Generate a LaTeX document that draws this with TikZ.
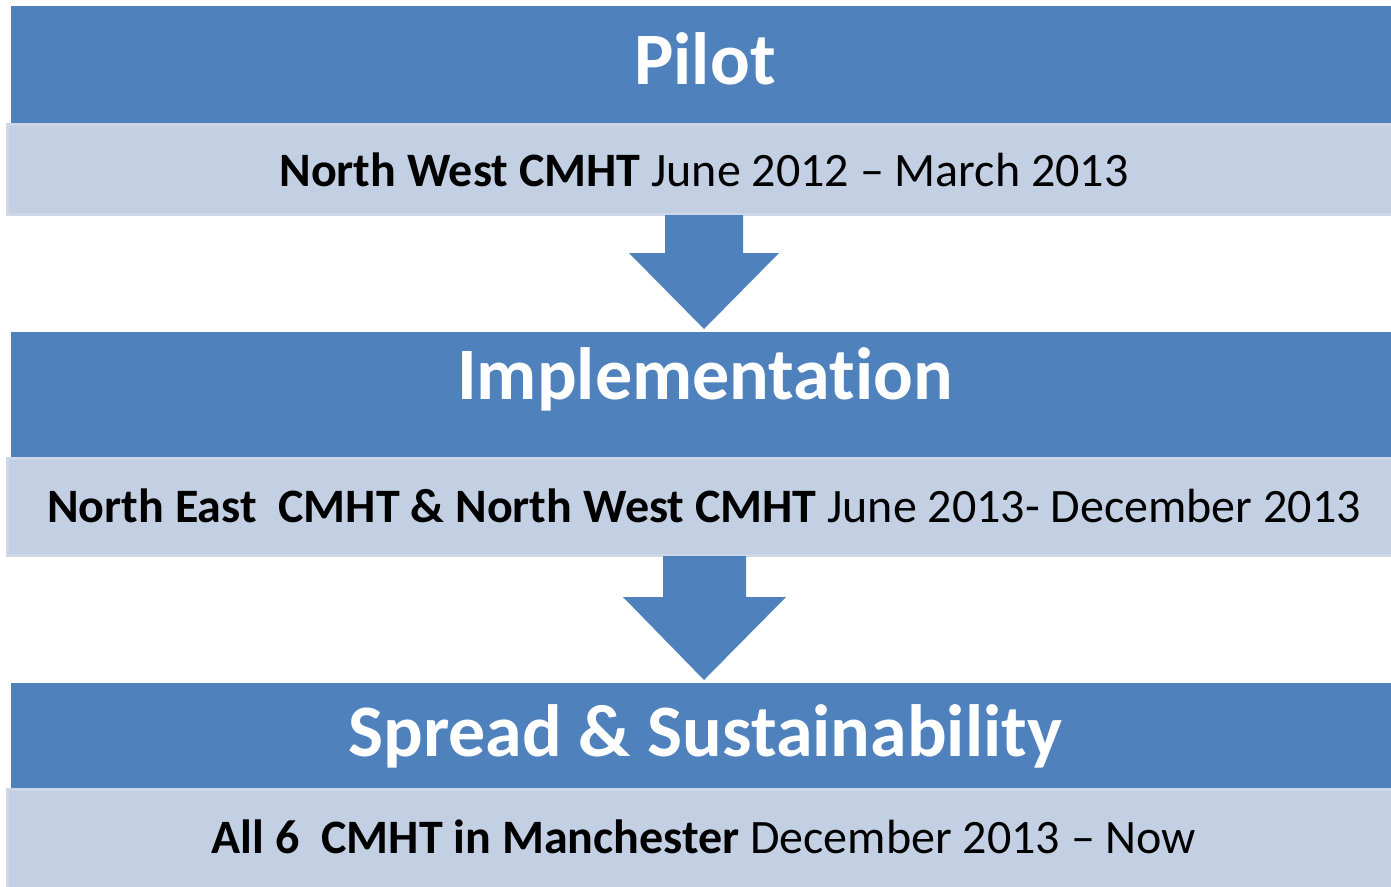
\documentclass[tikz,border=0pt]{standalone}
\usepackage{fontspec}
\setmainfont{Carlito}[RawFeature={-liga;-clig;-calt;-dlig}]
\definecolor{hdrblue}{HTML}{4F81BD}
\definecolor{subfill}{HTML}{C3CFE2}
\definecolor{subedge}{HTML}{CDD7E8}
\begin{document}
\begin{tikzpicture}[x=1pt,y=-1pt,
  header/.style={fill=hdrblue,draw=none},
  subbox/.style={fill=subfill,draw=subedge,line width=3pt},
  headtext/.style={anchor=base,text=white,font=\fontsize{74}{82}\selectfont\bfseries,inner sep=0pt},
  subtext/.style={anchor=base,text=black,font=\fontsize{48}{56}\selectfont,inner sep=0pt},
  blockarrow/.style={fill=hdrblue,draw=none}]
\useasboundingbox (0,0) rectangle (1391,886);
\fill[white] (0,0) rectangle (1391,886);

% stage 1
\path[header] (11,6) rectangle (1395,123);
\path[subbox] (7.5,124.5) rectangle (1398,214);
\node[headtext] (t1) at (705,84) {Pilot};
\node[subtext] (s1) at (704,186) {\textbf{North West CMHT} June 2012 – March 2013};

% stage 2
\path[header] (11,332) rectangle (1395,457);
\path[subbox] (7.5,458.5) rectangle (1398,555);
\node[headtext] (t2) at (705,399) {Implementat\kern0pt ion};
\node[subtext] (s2) at (704,522) {\textbf{North East\ \ CMHT \& North West CMHT} June 2013- December 2013};

% stage 3
\path[header] (11,683) rectangle (1395,788);
\path[subbox] (7.5,789.5) rectangle (1398,900);
\node[headtext] (t3) at (705,756) {Spread \& Sustainabil\kern0pt it\kern0pt y};
\node[subtext] (s3) at (704,853) {\textbf{All 6\ \ CMHT in Manchester} December 2013 – Now};

% block arrows between stages
\fill[blockarrow] (665,215) -- (743,215) -- (743,253) -- (779,253) -- (704,329) -- (629,253) -- (665,253) -- cycle;
\fill[blockarrow] (663,556) -- (746,556) -- (746,597) -- (786,597) -- (704,680) -- (623,597) -- (663,597) -- cycle;
\end{tikzpicture}
\end{document}
